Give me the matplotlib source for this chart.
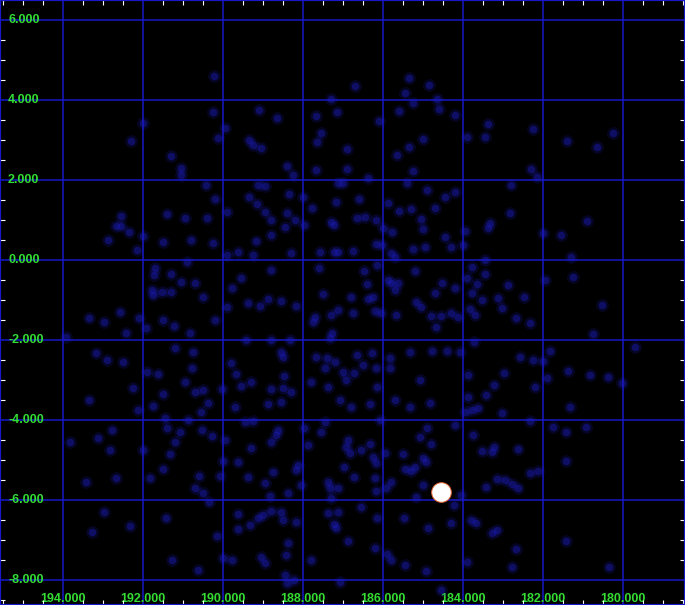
import numpy as np
import matplotlib
matplotlib.use('Agg')
import matplotlib.pyplot as plt
from matplotlib.ticker import MultipleLocator

# star positions (x axis runs right to left)
pos_x = [
    190.23, 190.25, 192.0, 189.95, 190.13, 192.3, 191.3, 191.05, 191.05, 190.43,
    190.2, 189.9, 192.55, 191.4, 190.95, 190.4, 192.68, 192.55, 192.35, 192.0,
    192.88, 191.5, 190.8, 190.25, 192.15, 190.9, 189.9, 191.7, 191.73, 191.3,
    191.05, 190.7, 191.78, 191.75, 191.53, 191.3, 190.5, 189.9, 193.35, 192.98,
    192.58, 192.1, 191.5, 191.23, 190.2,
    186.7, 185.35, 185.45, 184.85, 185.25, 184.65, 184.6, 184.2, 185.6, 187.3,
    189.1, 188.65, 187.68, 187.15, 186.1, 189.35, 189.25, 189.05, 187.55, 187.65,
    186.9, 185.0, 185.35, 185.65, 185.25, 188.4, 188.25, 187.68, 186.9, 186.38,
    189.13, 188.95, 187.13, 187.0, 185.4, 184.9, 184.45, 184.2, 189.35, 189.15,
    188.35, 188.0, 188.95, 188.4, 188.8, 188.2, 187.78, 187.18, 186.6, 185.88,
    185.6, 185.3, 184.7, 187.3, 187.23, 187.98, 188.45, 186.65, 186.45, 186.18,
    185.05, 185.0, 185.78, 186.0, 188.8, 189.18, 184.45, 184.3, 186.18, 186.03,
    185.25, 184.95, 189.63, 189.25, 188.3, 187.58, 187.23, 187.13, 186.75, 185.8,
    185.7, 188.8, 189.55, 189.78, 187.6, 186.48, 186.15, 186.4, 185.88, 185.8,
    185.63, 185.2, 184.53, 184.7, 184.2, 185.7, 189.38, 189.08, 188.88, 188.55,
    188.18, 187.5, 186.8, 186.38, 186.25, 187.7, 187.75, 187.3, 187.13, 186.75,
    186.2, 186.05, 185.68, 185.18, 185.05, 184.8, 184.55, 184.68, 184.3,
    183.38, 183.9, 183.45, 182.25, 181.4, 180.65, 180.25, 182.3, 182.15, 182.8,
    182.83, 183.33, 183.38, 183.95, 182.0, 181.55, 180.9, 184.0, 181.3, 183.45,
    183.78, 183.9, 183.45, 183.65, 182.88, 181.95, 181.25, 183.78, 183.53, 183.13,
    182.48, 183.03, 183.83, 183.7, 180.53, 182.68, 182.33, 184.13,
    192.43, 193.93, 191.93, 190.83, 191.2, 190.75, 193.18, 192.9, 192.5, 191.9,
    191.63, 190.78, 190.95, 192.25, 191.5, 190.7, 190.5, 190.03, 193.35, 191.75,
    192.13, 190.38, 190.55, 191.45, 190.88, 191.4, 191.08, 190.53, 190.28, 192.78,
    193.13, 193.83, 191.2, 189.95, 192.83, 192.0, 191.33, 190.0, 191.5, 192.68,
    191.83, 190.6, 190.08, 193.43, 190.7, 190.5, 190.35, 192.98, 191.43, 192.33,
    193.28, 190.15, 190.0, 191.28, 190.63,
    187.28, 187.33, 188.33, 189.43, 188.8, 188.55, 188.5, 189.8, 189.68, 189.55,
    189.3, 188.8, 188.5, 188.3, 188.48, 188.88, 188.55, 189.7, 189.45, 189.25,
    187.68, 187.4, 187.2, 187.45, 187.0, 186.93, 186.73, 186.65, 186.28, 186.5,
    186.18, 187.8, 187.38, 187.08, 186.8, 186.33, 186.15, 185.83, 185.83, 185.33,
    184.78, 184.4, 185.08, 185.7, 185.33, 184.83, 186.08, 187.45, 187.98, 187.88,
    188.63, 188.68, 188.8, 189.3, 189.63, 189.38, 188.75, 188.13, 188.18, 188.95,
    188.83, 188.38, 188.05, 187.55, 186.88, 186.93, 186.83, 186.55, 186.33, 186.25,
    186.18, 186.98, 186.73, 186.2, 187.38, 187.33, 187.13, 187.3, 186.18, 185.93,
    185.8, 185.95, 185.5, 185.45, 185.3, 185.2, 185.0, 184.93, 184.9, 185.08,
    184.8, 185.0, 185.18, 184.2, 189.63, 189.33, 189.0, 189.13, 188.8, 188.55,
    188.5, 188.18, 189.63, 189.78, 189.05, 188.95, 188.43, 188.38, 187.8, 188.45,
    188.4, 188.23, 187.38, 187.23, 187.18, 187.13, 186.88, 186.55, 186.15, 186.2,
    185.9, 185.8, 185.45, 184.93, 185.48, 184.88, 184.3, 184.23, 187.08, 184.55,
    180.75, 183.73, 184.08, 182.58, 182.25, 182.0, 181.83, 183.88, 182.98, 183.23,
    182.2, 181.9, 181.38, 180.83, 180.38, 180.03, 179.7, 183.88, 183.43, 183.03,
    183.95, 183.78, 183.63, 181.33, 182.33, 181.75, 181.43, 180.93, 183.75, 183.53,
    183.28, 183.23, 182.63, 181.43, 182.33, 182.13, 183.15, 182.95, 182.78, 182.63,
    183.43, 184.05, 183.8, 183.68, 183.28, 183.15, 182.68, 181.43, 183.9, 182.78,
    180.35,
]
pos_y = [
    4.6, 3.7, 3.43, 3.3, 3.05, 2.98, 2.6, 2.3, 2.13, 1.88,
    1.53, 1.2, 1.1, 1.15, 1.05, 1.05, 0.85, 0.85, 0.7, 0.6,
    0.5, 0.45, 0.5, 0.43, 0.25, -0.05, 0.13, -0.2, -0.38, -0.35,
    -0.55, -0.58, -0.75, -0.88, -0.8, -0.8, -0.93, -1.18, -1.45, -1.55,
    -1.3, -1.45, -1.5, -1.65, -1.5,
    4.35, 4.55, 4.18, 4.38, 3.93, 4.03, 3.78, 3.63, 3.73, 4.03,
    3.75, 3.55, 3.6, 3.7, 3.48, 3.0, 2.88, 2.8, 3.18, 2.95,
    2.78, 3.03, 2.83, 2.63, 2.23, 2.35, 2.13, 2.25, 2.28, 2.05,
    1.88, 1.85, 1.93, 1.93, 1.93, 1.75, 1.58, 1.7, 1.58, 1.4,
    1.65, 1.58, 1.2, 1.18, 1.0, 1.0, 1.3, 1.45, 1.53, 1.43,
    1.23, 1.28, 1.3, 0.95, 0.88, 0.88, 0.83, 1.05, 1.08, 1.0,
    1.03, 0.78, 0.7, 0.8, 0.63, 0.48, 0.58, 0.33, 0.4, 0.38,
    0.28, 0.33, 0.2, 0.13, 0.18, 0.2, 0.2, 0.2, 0.23, 0.18,
    0.08, -0.25, -0.45, -0.7, -0.2, -0.28, -0.13, -0.6, -0.5, -0.58,
    -0.58, -0.28, -0.58, -0.83, -0.7, -0.75, -1.08, -1.15, -0.98, -1.03,
    -1.15, -0.85, -0.93, -0.98, -0.93, -1.43, -1.55, -1.38, -1.25, -1.33,
    -1.28, -1.33, -1.38, -1.05, -1.18, -1.4, -1.4, -1.68, -1.33,
    3.4, 3.08, 3.08, 3.28, 2.98, 2.83, 3.18, 2.28, 2.08, 1.88,
    1.18, 0.93, 0.8, 0.73, 0.68, 0.63, 0.98, 0.38, 0.08, 0.0,
    -0.18, -0.45, -0.35, -0.6, -0.63, -0.5, -0.43, -0.83, -1.0, -0.95,
    -0.93, -1.2, -1.23, -1.38, -1.13, -1.45, -1.58, -1.43,
    -1.83, -1.93, -1.7, -1.83, -2.2, -2.3, -2.33, -2.5, -2.55, -2.8,
    -2.85, -2.7, -3.05, -3.2, -3.35, -3.3, -3.25, -3.23, -3.5, -3.65,
    -3.75, -3.58, -3.8, -3.95, -4.0, -4.2, -4.3, -4.25, -4.4, -4.25,
    -4.45, -4.55, -4.55, -4.5, -4.75, -4.75, -4.85, -5.03, -5.23, -5.45,
    -5.45, -5.4, -5.4, -5.55, -5.7, -5.83, -6.05, -6.3, -6.45, -6.65,
    -6.8, -6.9, -7.45, -7.5, -7.75,
    -1.83, -1.95, -2.0, -2.0, -2.0, -2.3, -2.43, -2.58, -2.85, -3.15,
    -3.05, -3.23, -3.2, -3.3, -2.9, -3.6, -3.55, -3.68, -4.05, -4.03,
    -2.43, -2.45, -2.55, -2.7, -2.8, -3.0, -2.83, -2.38, -2.33, -2.63,
    -2.7, -3.05, -3.18, -3.5, -3.68, -3.6, -3.18, -2.45, -2.7, -2.3,
    -2.28, -2.28, -3.0, -3.5, -3.68, -3.58, -4.0, -4.05, -4.2, -4.63,
    -4.25, -4.38, -4.55, -4.7, -5.05, -5.43, -5.3, -5.13, -5.25, -5.58,
    -5.9, -5.83, -5.63, -4.3, -4.5, -4.68, -4.83, -4.75, -4.6, -4.93,
    -5.08, -5.18, -5.43, -5.45, -5.55, -5.7, -5.7, -5.95, -5.78, -5.7,
    -5.55, -4.83, -4.85, -5.23, -5.28, -5.18, -4.95, -5.05, -4.2, -4.43,
    -4.6, -5.63, -5.93, -4.13, -6.35, -6.63, -6.38, -6.45, -6.28, -6.3,
    -6.5, -6.55, -6.73, -7.5, -7.43, -7.58, -7.38, -7.08, -7.5, -7.88,
    -8.08, -8.0, -6.33, -6.6, -6.7, -6.3, -7.03, -6.18, -6.45, -7.2,
    -7.35, -7.5, -7.63, -7.78, -6.45, -6.7, -6.58, -6.13, -8.05, -8.25,
    -1.85, -2.05, -2.3, -2.43, -2.5, -2.53, -2.28, -2.88, -2.83, -3.13,
    -3.18, -2.95, -2.78, -2.88, -2.93, -3.08, -2.18, -3.43, -3.38, -3.83,
    -3.8, -3.75, -3.7, -3.68, -4.03, -4.18, -4.3, -4.18, -4.38, -4.78,
    -4.8, -4.68, -4.73, -5.03, -5.33, -5.28, -5.48, -5.5, -5.6, -5.7,
    -5.68, -5.88, -6.5, -6.58, -6.83, -6.75, -7.23, -7.03, -7.55, -7.68,
    -7.68,
]

# the one bright source
bright_x = [184.55]
bright_y = [-5.8]

x_ticks = [194, 192, 190, 188, 186, 184, 182, 180]
y_ticks = [6, 4, 2, 0, -2, -4, -6, -8]

grid_blue = '#1818c8'
label_green = '#33dd33'

fig = plt.figure(figsize=(6.85, 6.05), dpi=100)
fig.patch.set_facecolor('black')
ax = fig.add_axes([0, 0, 1, 1])
ax.set_facecolor('black')

ax.set_xlim(195.575, 178.45)
ax.set_ylim(-8.625, 6.5)

ax.set_xticks(x_ticks)
ax.set_yticks(y_ticks)
ax.set_xticklabels([f'{v:.3f}' for v in x_ticks])
ax.set_yticklabels([f'{v:.3f}' for v in y_ticks])
ax.xaxis.set_minor_locator(MultipleLocator(0.5))
ax.yaxis.set_minor_locator(MultipleLocator(0.5))

ax.grid(which='major', color=grid_blue, linewidth=1.1, zorder=1)
ax.set_axisbelow(True)

ax.tick_params(which='major', length=0, labelcolor=label_green, labelsize=9)
ax.tick_params(which='minor', direction='in', length=3.6, width=0.8, color='white',
               top=True, bottom=True, left=True, right=True)
ax.tick_params(axis='y', which='major', pad=-5.8)
ax.tick_params(axis='x', which='major', pad=-8.6)
for lab in ax.get_yticklabels():
    lab.set_horizontalalignment('left')
    lab.set_verticalalignment('center')
for lab in ax.get_xticklabels() + ax.get_yticklabels():
    lab.set_fontfamily('Liberation Sans')
    lab.set_fontweight('bold')

for sp in ax.spines.values():
    sp.set_color(grid_blue)
    sp.set_linewidth(1.6)

# soft glow + core for the faint stars
ax.scatter(pos_x, pos_y, s=85, color='#1c1cc0', alpha=0.18, linewidths=0, zorder=2)
ax.scatter(pos_x, pos_y, s=30, color='#1c1cc0', alpha=0.42, linewidths=0, zorder=3)

# bright one
ax.scatter(bright_x, bright_y, s=200, color='white', edgecolors='#e06030',
           linewidths=0.7, zorder=5)

fig.savefig('out.png', dpi=100, facecolor='black')
